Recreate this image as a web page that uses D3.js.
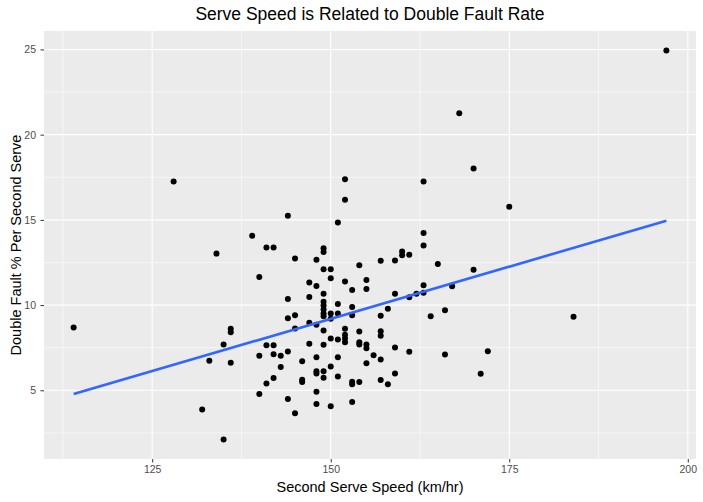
<!DOCTYPE html>
<meta charset="utf-8">
<script src="https://d3js.org/d3.v7.min.js"></script>
<style>
body {
  margin: 0;
  background: #fff;
  font-family: 'Liberation Sans', Arial, Helvetica, sans-serif;
}
.axis .domain {
  display: none;
}
.axis line {
  stroke: #333;
}
.axis text {
  fill: #4d4d4d;
  font-size: 10.5px;
}
</style>
<svg width="703" height="502"></svg>

<script>
// second serve speed (km/hr) and double fault % per second serve
var speed = [
  114, 128, 132, 133, 134, 135, 135, 136, 136, 136,
  139, 140, 140, 140, 141, 141, 141, 142, 142, 142, 142,
  143, 143, 144, 144, 144, 144, 144, 145, 145, 145, 145,
  146, 146, 146, 147, 147, 147, 147,
  148, 148, 148, 148, 148, 148, 148, 148,
  149, 149, 149, 149, 149, 149, 149, 149, 149, 149, 149, 149, 149,
  150, 150, 150, 150, 150, 150, 150,
  151, 151, 151, 151, 151, 151,
  152, 152, 152, 152, 152, 152, 152,
  153, 153, 153, 153, 153, 153,
  154, 154, 154, 154, 154,
  155, 155, 155, 155, 155,
  156, 157, 157, 157, 157, 157, 157,
  158, 158, 159, 159, 159, 159,
  160, 160, 161, 161, 161, 162,
  163, 163, 163, 163, 163, 164, 165, 166, 166, 167,
  168, 170, 170, 171, 172, 175, 184, 197
];
var dfRate = [
  8.68, 17.25, 3.88, 6.73, 13.02, 7.69, 2.11, 8.61, 8.41, 6.62,
  14.07, 11.65, 7.03, 4.78, 13.38, 7.65, 5.40, 13.38, 7.65, 7.12, 5.72,
  7.03, 6.36, 15.24, 10.36, 9.23, 7.28, 4.49, 12.74, 9.40, 8.62, 3.65,
  6.71, 5.62, 5.48, 11.33, 10.48, 8.96, 7.73,
  12.66, 11.12, 8.84, 6.94, 6.12, 5.99, 4.92, 4.19,
  13.33, 13.11, 12.10, 10.66, 10.20, 9.97, 9.74, 9.50, 9.35, 8.51, 7.67, 6.12, 5.74,
  12.10, 11.57, 9.50, 9.20, 8.04, 6.40, 4.07,
  14.85, 10.07, 9.50, 7.98, 6.94, 5.81,
  17.39, 16.18, 11.38, 8.61, 8.26, 8.04, 7.82,
  10.89, 9.89, 9.40, 5.50, 5.36, 4.31,
  12.33, 8.45, 7.82, 7.68, 5.48,
  11.47, 10.95, 7.69, 7.46, 6.59,
  7.06, 12.60, 9.37, 8.47, 8.20, 6.81, 5.60,
  9.78, 5.35, 12.62, 10.66, 7.51, 5.99,
  13.15, 12.92, 12.96, 10.46, 7.26, 10.66,
  17.25, 14.23, 13.50, 11.16, 10.72, 9.35, 12.41, 9.70, 7.10, 11.10,
  21.25, 18.01, 12.08, 5.97, 7.29, 15.77, 9.31, 24.94
];

// fitted line (lm) end points as drawn
var fitX = [114, 197];
var fitY = [4.78, 14.95];

var xTicks = [125, 150, 175, 200];
var yTicks = [5, 10, 15, 20, 25];
var xMinor = [112.5, 137.5, 162.5, 187.5];
var yMinor = [2.5, 7.5, 12.5, 17.5, 22.5];

var svg = d3.select("svg"),
    margin = {top: 31, right: 7, bottom: 43, left: 44},
    width = +svg.attr("width") - margin.left - margin.right,
    height = +svg.attr("height") - margin.top - margin.bottom,
    g = svg.append("g").attr("transform", "translate(" + margin.left + "," + margin.top + ")");

// ggplot style 5% expansion
var xr = d3.extent(speed), yr = d3.extent(dfRate);
var xPad = (xr[1] - xr[0]) * 0.05, yPad = (yr[1] - yr[0]) * 0.05;

var x = d3.scaleLinear()
    .domain([xr[0] - xPad, xr[1] + xPad])
    .range([0, width]);

var y = d3.scaleLinear()
    .domain([yr[0] - yPad, yr[1] + yPad])
    .range([height, 0]);

// panel background
g.append("rect")
    .attr("width", width)
    .attr("height", height)
    .attr("fill", "#ebebeb");

// minor grid
g.selectAll(".xminor").data(xMinor).enter().append("line")
    .attr("x1", x).attr("x2", x)
    .attr("y1", 0).attr("y2", height)
    .attr("stroke", "#fff").attr("stroke-width", 0.55);
g.selectAll(".yminor").data(yMinor).enter().append("line")
    .attr("y1", y).attr("y2", y)
    .attr("x1", 0).attr("x2", width)
    .attr("stroke", "#fff").attr("stroke-width", 0.55);

// major grid
g.selectAll(".xmajor").data(xTicks).enter().append("line")
    .attr("x1", x).attr("x2", x)
    .attr("y1", 0).attr("y2", height)
    .attr("stroke", "#fff").attr("stroke-width", 1.1);
g.selectAll(".ymajor").data(yTicks).enter().append("line")
    .attr("y1", y).attr("y2", y)
    .attr("x1", 0).attr("x2", width)
    .attr("stroke", "#fff").attr("stroke-width", 1.1);

// points
g.append("g")
    .selectAll("circle")
    .data(speed)
    .enter().append("circle")
    .attr("cx", function(d) { return x(d); })
    .attr("cy", function(d, i) { return y(dfRate[i]); })
    .attr("r", 3)
    .attr("fill", "#000");

// regression line
g.append("path")
    .datum(d3.zip(fitX, fitY))
    .attr("fill", "none")
    .attr("stroke", "#3366ff")
    .attr("stroke-width", 2.6)
    .attr("d", d3.line()
        .x(function(d) { return x(d[0]); })
        .y(function(d) { return y(d[1]); }));

// axes
g.append("g")
    .attr("class", "axis")
    .attr("transform", "translate(0," + height + ")")
    .call(d3.axisBottom(x).tickValues(xTicks).tickSize(3.5).tickPadding(3.5));

g.append("g")
    .attr("class", "axis")
    .call(d3.axisLeft(y).tickValues(yTicks).tickSize(3.5).tickPadding(4.5));

// titles
svg.append("text")
    .attr("x", margin.left + width / 2)
    .attr("y", 20)
    .attr("text-anchor", "middle")
    .attr("font-size", 17.5)
    .attr("fill", "#000")
    .text("Serve Speed is Related to Double Fault Rate");

svg.append("text")
    .attr("x", margin.left + width / 2)
    .attr("y", 492)
    .attr("text-anchor", "middle")
    .attr("font-size", 14.5)
    .attr("fill", "#000")
    .text("Second Serve Speed (km/hr)");

svg.append("text")
    .attr("transform", "translate(21," + (margin.top + height / 2) + ") rotate(-90)")
    .attr("text-anchor", "middle")
    .attr("font-size", 14.5)
    .attr("fill", "#000")
    .text("Double Fault % Per Second Serve");
</script>
